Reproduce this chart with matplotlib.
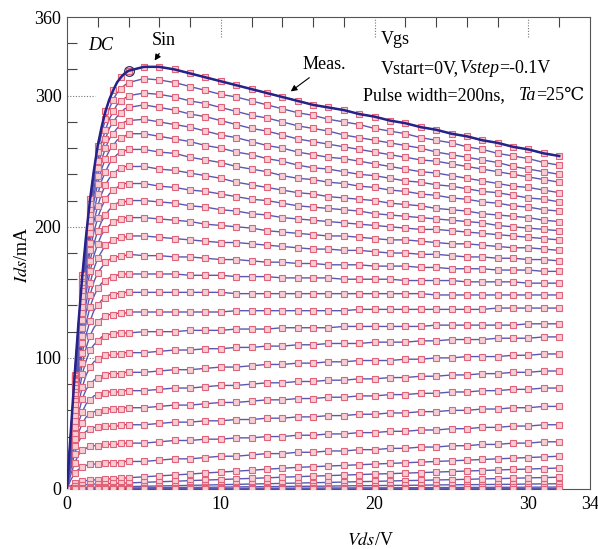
import numpy as np
import matplotlib
matplotlib.use('Agg')
import matplotlib.pyplot as plt
from matplotlib.offsetbox import TextArea, HPacker, AnnotationBbox

plt.rcParams['font.family'] = ['Liberation Serif', 'DejaVu Serif']
plt.rcParams['mathtext.fontset'] = 'stix'

# drain voltage grid (V)
vds_v = [0, 0.25, 0.5, 0.75, 1.0, 1.25, 1.5, 1.75, 2.0, 2.25, 2.5, 2.75, 3.0, 3.25, 3.5, 3.75, 4.0, 5,
         6, 7, 8, 9, 10, 11, 12, 13, 14, 15, 16, 17, 18, 19, 20, 21, 22, 23, 24, 25, 26, 27, 28,
         29, 30, 31, 32]

# gate steps, Vstart=0 V, Vstep=-0.1 V
vgs_v = [0.0, -0.1, -0.2, -0.3, -0.4, -0.5, -0.6, -0.7, -0.8, -0.9,
         -1.0, -1.1, -1.2, -1.3, -1.4, -1.5, -1.6, -1.7, -1.8, -1.9,
         -2.0, -2.1, -2.2, -2.3, -2.4, -2.5, -2.6, -2.7, -2.8, -2.9]

# Ids (mA), one row per Vgs
ids_ma = [
    [0, 44, 87, 127, 163, 194, 221, 243, 262, 276, 288, 297, 304, 310, 314, 317, 319, 322, 322, 320, 317, 314, 311, 308, 305, 302, 299, 296, 293, 291, 289, 286, 284, 281, 279, 276, 274, 271, 269, 266, 264, 261, 259, 256, 254],
    [0, 44, 86, 126, 161, 191, 217, 239, 257, 271, 282, 290, 297, 302, 305, 308, 310, 313, 312, 310, 307, 304, 301, 299, 296, 293, 290, 287, 285, 282, 280, 278, 275, 273, 271, 268, 266, 264, 261, 259, 256, 254, 252, 249, 247],
    [0, 43, 85, 123, 158, 188, 213, 234, 250, 264, 274, 282, 288, 293, 296, 298, 300, 302, 301, 299, 296, 294, 291, 288, 285, 283, 280, 277, 275, 273, 270, 268, 266, 264, 262, 260, 257, 255, 253, 251, 249, 246, 244, 242, 240],
    [0, 43, 84, 122, 156, 185, 209, 229, 245, 258, 267, 275, 280, 284, 287, 290, 291, 293, 291, 289, 286, 284, 281, 278, 275, 273, 270, 267, 265, 263, 261, 259, 257, 255, 253, 251, 250, 248, 246, 244, 242, 240, 238, 236, 234],
    [0, 43, 83, 120, 153, 182, 205, 224, 239, 251, 260, 267, 271, 275, 278, 280, 281, 282, 280, 278, 276, 273, 270, 268, 265, 262, 260, 257, 255, 253, 252, 250, 248, 246, 244, 242, 241, 239, 237, 235, 233, 231, 230, 228, 226],
    [0, 42, 82, 119, 151, 178, 200, 219, 233, 244, 252, 258, 262, 266, 268, 269, 271, 271, 269, 267, 265, 262, 260, 257, 255, 252, 250, 247, 245, 244, 242, 240, 239, 237, 235, 234, 232, 231, 229, 227, 226, 224, 222, 221, 219],
    [0, 41, 80, 116, 147, 174, 195, 212, 225, 235, 242, 248, 252, 255, 257, 258, 259, 259, 257, 256, 253, 251, 249, 246, 244, 242, 239, 237, 236, 234, 233, 231, 230, 228, 227, 225, 224, 222, 221, 219, 218, 216, 215, 213, 212],
    [0, 40, 79, 113, 143, 168, 188, 204, 216, 225, 232, 237, 240, 243, 245, 246, 246, 246, 244, 243, 241, 239, 237, 234, 232, 230, 228, 226, 225, 223, 222, 221, 220, 218, 217, 216, 214, 213, 212, 210, 209, 208, 207, 205, 204],
    [0, 39, 77, 110, 139, 163, 182, 196, 207, 215, 221, 225, 228, 230, 232, 233, 233, 233, 231, 230, 228, 227, 225, 223, 221, 220, 218, 216, 215, 214, 213, 212, 210, 209, 208, 207, 206, 205, 204, 203, 201, 200, 199, 198, 197],
    [0, 38, 74, 106, 134, 156, 174, 187, 197, 204, 209, 213, 216, 218, 219, 219, 220, 220, 219, 218, 216, 215, 213, 212, 210, 209, 207, 206, 205, 204, 203, 202, 201, 200, 199, 198, 198, 197, 196, 195, 194, 193, 192, 191, 190],
    [0, 37, 72, 103, 129, 150, 166, 178, 187, 194, 198, 201, 204, 205, 206, 207, 207, 207, 206, 205, 204, 202, 201, 200, 199, 197, 196, 195, 194, 193, 193, 192, 191, 190, 190, 189, 188, 187, 187, 186, 185, 184, 184, 183, 182],
    [0, 36, 69, 99, 123, 142, 157, 168, 176, 181, 186, 188, 190, 191, 192, 192, 193, 193, 192, 191, 190, 189, 188, 188, 187, 186, 185, 184, 183, 183, 182, 182, 181, 180, 180, 179, 179, 178, 177, 177, 176, 176, 175, 175, 174],
    [0, 35, 67, 94, 117, 135, 148, 158, 165, 169, 173, 175, 176, 177, 178, 178, 179, 178, 178, 177, 177, 176, 175, 175, 174, 173, 173, 172, 172, 171, 171, 171, 170, 170, 170, 169, 169, 168, 168, 168, 167, 167, 167, 166, 166],
    [0, 33, 64, 90, 111, 127, 139, 147, 153, 157, 159, 161, 162, 163, 164, 164, 164, 164, 164, 164, 163, 163, 163, 162, 162, 162, 161, 161, 161, 161, 160, 160, 160, 160, 159, 159, 159, 159, 158, 158, 158, 158, 157, 157, 157],
    [0, 31, 60, 85, 104, 118, 128, 136, 140, 144, 146, 148, 148, 149, 149, 150, 150, 150, 150, 150, 150, 150, 150, 149, 149, 149, 149, 149, 149, 149, 149, 149, 149, 149, 149, 149, 148, 148, 148, 148, 148, 148, 148, 148, 148],
    [0, 29, 56, 79, 96, 108, 117, 123, 127, 130, 132, 133, 133, 134, 134, 134, 135, 135, 135, 135, 135, 135, 135, 136, 136, 136, 136, 136, 136, 136, 136, 137, 137, 137, 137, 137, 137, 137, 137, 137, 138, 138, 138, 138, 138],
    [0, 28, 52, 72, 88, 98, 106, 110, 113, 116, 117, 118, 118, 119, 119, 119, 119, 120, 120, 120, 121, 121, 121, 122, 122, 122, 123, 123, 123, 123, 124, 124, 124, 124, 124, 124, 125, 125, 125, 125, 125, 125, 126, 126, 126],
    [0, 25, 47, 65, 78, 87, 93, 97, 99, 101, 102, 102, 103, 103, 103, 104, 104, 104, 105, 106, 106, 107, 107, 108, 108, 109, 109, 110, 110, 111, 111, 111, 112, 112, 112, 113, 113, 114, 114, 114, 115, 115, 115, 116, 116],
    [0, 23, 42, 58, 69, 76, 80, 83, 85, 86, 87, 88, 88, 88, 88, 89, 89, 89, 90, 91, 91, 92, 93, 93, 94, 95, 95, 96, 96, 97, 97, 98, 98, 98, 99, 99, 100, 100, 101, 101, 101, 102, 102, 103, 103],
    [0, 20, 38, 51, 59, 65, 68, 71, 72, 73, 73, 74, 74, 74, 74, 75, 75, 75, 76, 77, 77, 78, 79, 79, 80, 81, 81, 82, 82, 83, 83, 84, 84, 85, 85, 86, 86, 87, 87, 88, 88, 89, 89, 90, 90],
    [0, 18, 33, 43, 50, 55, 57, 59, 59, 60, 60, 61, 61, 61, 61, 62, 62, 62, 63, 64, 64, 65, 66, 66, 67, 68, 68, 69, 69, 70, 70, 71, 71, 72, 72, 73, 73, 74, 74, 75, 75, 76, 76, 77, 77],
    [0, 15, 27, 36, 41, 44, 46, 47, 47, 48, 48, 48, 48, 48, 49, 49, 49, 49, 50, 51, 51, 52, 52, 53, 53, 54, 54, 55, 55, 56, 56, 57, 57, 58, 58, 59, 59, 60, 60, 61, 61, 62, 62, 63, 63],
    [0, 11, 20, 26, 30, 31, 33, 33, 33, 34, 34, 34, 34, 34, 35, 35, 35, 35, 36, 37, 37, 38, 38, 39, 39, 40, 40, 41, 41, 42, 42, 43, 43, 44, 44, 45, 45, 46, 46, 47, 47, 48, 48, 49, 49],
    [0, 7, 12, 15, 17, 18, 19, 19, 19, 20, 20, 20, 20, 20, 20, 21, 21, 21, 22, 23, 23, 24, 25, 25, 26, 27, 27, 28, 28, 29, 29, 30, 30, 31, 31, 32, 32, 33, 33, 34, 34, 35, 35, 36, 36],
    [0, 2.4, 4.2, 5.3, 6.0, 6.4, 6.7, 6.9, 7.1, 7.3, 7.5, 7.7, 7.9, 8.0, 8.2, 8.4, 8.6, 9.3, 10.0, 10.7, 11.4, 12.2, 12.9, 13.6, 14.3, 15.1, 15.8, 16.5, 17.0, 17.5, 18.0, 18.5, 19.0, 19.5, 20.0, 20.5, 21.0, 21.5, 22.0, 22.5, 23.0, 23.5, 24.0, 24.5, 25.0],
    [0, 1.2, 2.2, 2.8, 3.1, 3.3, 3.5, 3.7, 3.8, 3.9, 4.0, 4.1, 4.2, 4.3, 4.4, 4.5, 4.6, 5.1, 5.5, 5.9, 6.4, 6.8, 7.2, 7.7, 8.1, 8.5, 9.0, 9.4, 9.8, 10.2, 10.6, 11.0, 11.4, 11.7, 12.1, 12.5, 12.9, 13.3, 13.7, 14.1, 14.5, 14.9, 15.2, 15.6, 16.0],
    [0, 0.4, 0.7, 0.9, 1.0, 1.1, 1.2, 1.3, 1.3, 1.4, 1.5, 1.5, 1.6, 1.6, 1.7, 1.7, 1.8, 2.1, 2.3, 2.5, 2.8, 3.0, 3.3, 3.5, 3.8, 4.0, 4.3, 4.5, 4.8, 5.0, 5.3, 5.6, 5.8, 6.1, 6.4, 6.6, 6.9, 7.1, 7.4, 7.7, 7.9, 8.2, 8.5, 8.7, 9.0],
    [0, 0.2, 0.3, 0.4, 0.5, 0.5, 0.5, 0.6, 0.6, 0.6, 0.7, 0.7, 0.7, 0.7, 0.8, 0.8, 0.8, 0.9, 1.0, 1.1, 1.2, 1.3, 1.4, 1.6, 1.7, 1.8, 1.9, 2.0, 2.1, 2.2, 2.4, 2.5, 2.6, 2.7, 2.8, 2.9, 3.1, 3.2, 3.3, 3.4, 3.5, 3.6, 3.8, 3.9, 4.0],
    [0, 0, 0.1, 0.1, 0.1, 0.1, 0.2, 0.2, 0.2, 0.2, 0.2, 0.2, 0.2, 0.2, 0.2, 0.2, 0.3, 0.3, 0.3, 0.3, 0.4, 0.4, 0.5, 0.5, 0.5, 0.6, 0.6, 0.7, 0.7, 0.8, 0.8, 0.9, 0.9, 0.9, 1.0, 1.0, 1.1, 1.1, 1.2, 1.2, 1.3, 1.3, 1.4, 1.4, 1.5],
    [0, 0, 0, 0, 0, 0, 0, 0, 0.1, 0.1, 0.1, 0.1, 0.1, 0.1, 0.1, 0.1, 0.1, 0.1, 0.1, 0.1, 0.1, 0.1, 0.1, 0.1, 0.1, 0.1, 0.1, 0.1, 0.1, 0.1, 0.1, 0.1, 0.2, 0.2, 0.2, 0.2, 0.2, 0.2, 0.2, 0.2, 0.3, 0.3, 0.3, 0.3, 0.3],
]

FS = 13
fig = plt.figure(figsize=(5.98, 5.49), dpi=100)
ax = fig.add_axes([0.112, 0.1093, 0.8746, 0.8597])

vds = np.array(vds_v)
meas = (vds * 2) % 1 == 0   # measured points every 0.5 V / 1 V
for vg, row in zip(vgs_v, ids_ma):
    row = np.array(row)
    ax.plot(vds, row, color='#5a58b2', lw=1.0, zorder=2)
    ax.plot(vds[meas], row[meas], ls='none', marker='s', ms=3.8, mfc='#f7cdd4',
            mec='#e0637a', mew=0.8, zorder=3)
# Vgs = 0 V simulated curve, drawn heavier
ax.plot(vds, ids_ma[0], color='#25238a', lw=1.8, zorder=4)
ax.plot(vds_v[16], ids_ma[0][16], marker='o', ms=7, mfc='none', mec='#333366',
        mew=0.9, zorder=5)

ax.set_xlim(0, 34)
ax.set_ylim(0, 360)
ax.set_xticks([0, 10, 20, 30, 34])
ax.set_yticks([0, 100, 200, 300, 360])
ax.set_xticks(np.arange(0, 35, 2), minor=True)
ax.set_yticks(np.arange(0, 361, 20), minor=True)
ax.tick_params(which='major', length=0, labelsize=FS)
ax.tick_params(axis='x', which='major', pad=5)
ax.tick_params(axis='y', which='major', pad=4)
ax.tick_params(which='minor', direction='in', length=7, width=0.8, color='#444',
               top=True, bottom=False, left=True, right=False)
for s in ax.spines.values():
    s.set_color('#555555')
    s.set_linewidth(0.8)

# short dotted marks at the major ticks
for xv in [10, 20, 30]:
    ax.axvline(xv, ymin=1 - 20 / 472, ymax=1, ls=(0, (1, 1.5)), color='#777', lw=0.8)
for yv in [100, 200, 300]:
    ax.axhline(yv, xmin=0, xmax=28 / 523, ls=(0, (1, 1.5)), color='#777', lw=0.8)

ax.text(1.4, 338, 'DC', style='italic', fontsize=FS, va='center')
ax.text(6.3, 342, 'Sin', fontsize=FS, ha='center', va='center')
ax.annotate('', xy=(5.6, 325), xytext=(6.1, 334),
            arrowprops=dict(arrowstyle='-|>', color='k', lw=0.8, mutation_scale=9))
ax.text(16.7, 324, 'Meas.', fontsize=FS, ha='center', va='center')
ax.annotate('', xy=(14.4, 302), xytext=(15.9, 315),
            arrowprops=dict(arrowstyle='-|>', color='k', lw=0.8, mutation_scale=9))
ax.text(20.4, 343, 'Vgs', fontsize=FS, va='center')

rm = dict(fontsize=FS)
it = dict(fontsize=FS, style='italic')
line1 = HPacker(children=[TextArea('Vstart=0V,', textprops=rm),
                          TextArea('Vstep', textprops=it),
                          TextArea('=-0.1V', textprops=rm)],
                pad=0, sep=0, align='baseline')
ax.add_artist(AnnotationBbox(line1, (20.4, 320.5), box_alignment=(0, 0.5),
                             frameon=False, pad=0))
ta = HPacker(children=[TextArea('Ta', textprops=it),
                       TextArea('=25℃', textprops=rm)],
             pad=0, sep=0, align='baseline')
line2 = HPacker(children=[TextArea('Pulse width=200ns,', textprops=rm), ta],
                pad=0, sep=10, align='baseline')
ax.add_artist(AnnotationBbox(line2, (19.26, 300), box_alignment=(0, 0.5),
                             frameon=False, pad=0))

fig.text(0.037, 0.536, r'$\mathit{Ids}$/mA', rotation=90, ha='center', va='center',
         fontsize=FS)
fig.text(0.619, 0.016, r'$\mathit{Vds}$/V', ha='center', va='center', fontsize=FS)

fig.savefig('out.png', dpi=100)
